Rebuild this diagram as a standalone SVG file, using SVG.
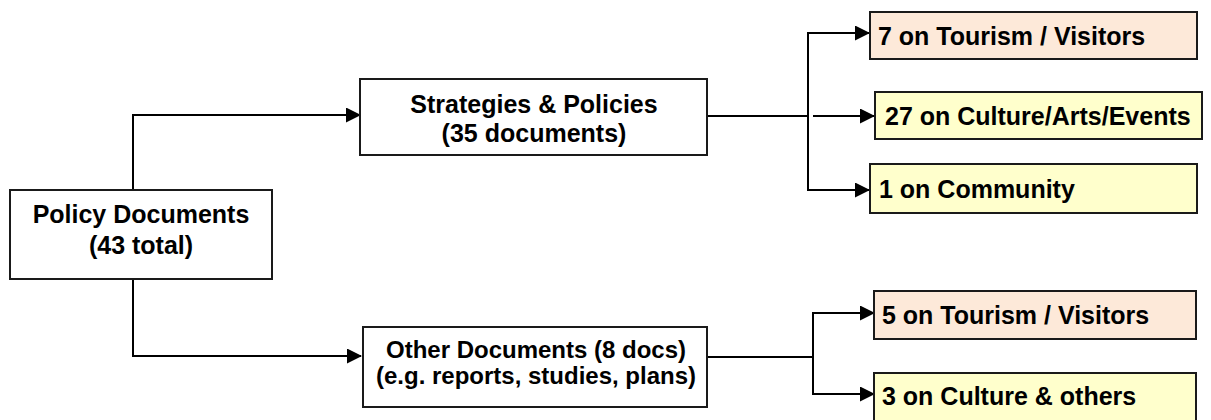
<svg xmlns="http://www.w3.org/2000/svg" width="1211" height="420" viewBox="0 0 1211 420">
  <defs>
    <marker id="arrow" markerUnits="userSpaceOnUse" markerWidth="15" markerHeight="15" refX="14" refY="7.5" orient="auto">
      <path d="M0,0 L15,7.5 L0,15 Z" fill="#000"/>
    </marker>
    <style>
      .box { stroke: #1a1a1a; stroke-width: 2; }
      .plain { fill: #ffffff; }
      .peach { fill: #fde9d9; }
      .yellow { fill: #ffffcc; }
      .label { font-family: "Liberation Sans", Arial, sans-serif; font-weight: bold; font-size: 25px; fill: #000; }
      .small { font-size: 24px; }
      .mid { text-anchor: middle; }
      .wire { fill: none; stroke: #000; stroke-width: 2; }
    </style>
  </defs>
  <rect width="1211" height="420" fill="#ffffff"/>

  <!-- connectors -->
  <g id="connectors">
    <polyline class="wire" points="133,190 133,115 360,115" marker-end="url(#arrow)"/>
    <polyline class="wire" points="133,279 133,356 361,356" marker-end="url(#arrow)"/>
    <line class="wire" x1="707" y1="116" x2="808" y2="116"/>
    <line class="wire" x1="808" y1="33" x2="808" y2="190"/>
    <line class="wire" x1="807" y1="33" x2="869" y2="33" marker-end="url(#arrow)"/>
    <line class="wire" x1="807" y1="190" x2="869" y2="190" marker-end="url(#arrow)"/>
    <line class="wire" x1="813" y1="116" x2="874" y2="116" marker-end="url(#arrow)"/>
    <line class="wire" x1="707" y1="357" x2="813" y2="357"/>
    <line class="wire" x1="813" y1="313" x2="813" y2="394"/>
    <line class="wire" x1="812" y1="313" x2="874" y2="313" marker-end="url(#arrow)"/>
    <line class="wire" x1="812" y1="394" x2="874" y2="394" marker-end="url(#arrow)"/>
  </g>

  <!-- root -->
  <g id="policy-documents">
    <rect class="box plain" x="10" y="190" width="262" height="89"/>
    <text class="label mid" x="141" y="223">Policy Documents</text>
    <text class="label mid" x="141" y="254">(43 total)</text>
  </g>

  <!-- second level -->
  <g id="strategies-policies">
    <rect class="box plain" x="360" y="79" width="347" height="76"/>
    <text class="label mid" x="534" y="113">Strategies &amp; Policies</text>
    <text class="label mid" x="534" y="142">(35 documents)</text>
  </g>
  <g id="other-documents">
    <rect class="box plain" x="363" y="327" width="344" height="80"/>
    <text class="label small mid" x="536" y="358">Other Documents (8 docs)</text>
    <text class="label small mid" x="536" y="384">(e.g. reports, studies, plans)</text>
  </g>

  <!-- leaves -->
  <g id="sp-tourism">
    <rect class="box peach" x="870" y="12" width="327" height="47"/>
    <text class="label" x="878" y="45">7 on Tourism / Visitors</text>
  </g>
  <g id="sp-culture">
    <rect class="box yellow" x="875" y="92" width="327" height="47"/>
    <text class="label" x="885" y="125">27 on Culture/Arts/Events</text>
  </g>
  <g id="sp-community">
    <rect class="box yellow" x="870" y="164" width="327" height="49"/>
    <text class="label" x="879" y="198">1 on Community</text>
  </g>
  <g id="od-tourism">
    <rect class="box peach" x="874" y="291" width="322" height="48"/>
    <text class="label" x="882" y="324">5 on Tourism / Visitors</text>
  </g>
  <g id="od-culture">
    <rect class="box yellow" x="874" y="373" width="322" height="50"/>
    <text class="label" x="882" y="405">3 on Culture &amp; others</text>
  </g>
</svg>
